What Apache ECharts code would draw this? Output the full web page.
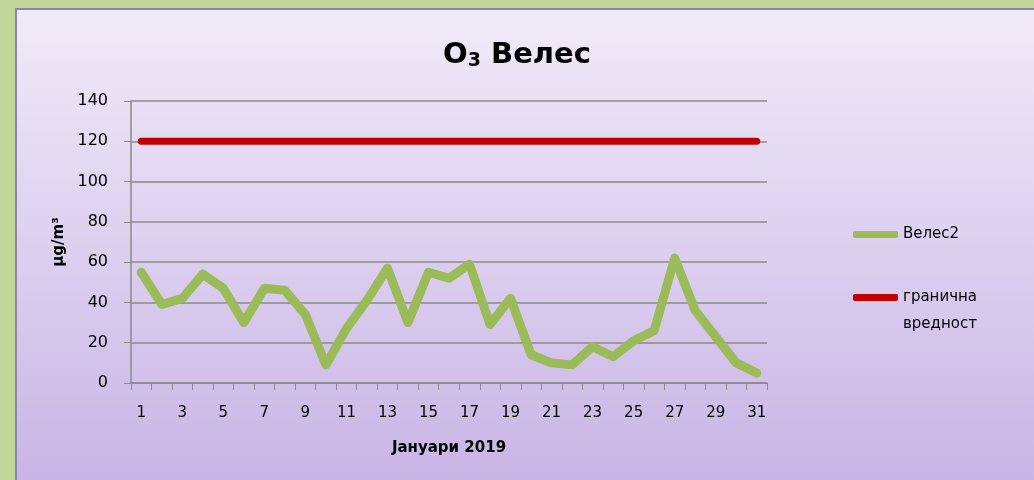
<!DOCTYPE html>
<html>
<head>
<meta charset="utf-8">
<script src="https://cdn.jsdelivr.net/npm/echarts@6/dist/echarts.min.js"></script>
<style>
  html, body { margin: 0; padding: 0; }
  #chart { width: 1034px; height: 480px; }
</style>
</head>
<body>
<div id="chart"></div>
<script>
var days = ['1','2','3','4','5','6','7','8','9','10','11','12','13','14','15','16',
            '17','18','19','20','21','22','23','24','25','26','27','28','29','30','31'];
var veles2 = [55, 39, 42, 54, 47, 30, 47, 46, 34, 9, 27, 41, 57, 30, 55, 52,
              59, 29, 42, 14, 10, 9, 18, 13, 21, 26, 62, 36, 23, 10, 5];
var granicna = [120, 120, 120, 120, 120, 120, 120, 120, 120, 120, 120, 120, 120, 120, 120, 120,
                120, 120, 120, 120, 120, 120, 120, 120, 120, 120, 120, 120, 120, 120, 120];

var font = '"Comic Sans MS", "DejaVu Sans", sans-serif';
var myChart = echarts.init(document.getElementById('chart'));

var option = {
    animation: false,
    graphic: [
        {
            type: 'rect', silent: true, z: -10,
            shape: {x: 0, y: 0, width: 1034, height: 480},
            style: {fill: '#c3d69b'}
        },
        {
            type: 'rect', silent: true, z: -9,
            shape: {x: 16, y: 9, width: 1030, height: 480},
            style: {
                stroke: '#8f82b0', lineWidth: 2,
                fill: {
                    type: 'linear', x: 0, y: 0, x2: 0, y2: 1,
                    colorStops: [
                        {offset: 0, color: '#f0ebf8'},
                        {offset: 1, color: '#c8b4e5'}
                    ]
                }
            }
        }
    ],
    title: {
        text: 'O{sub|3} Велес',
        left: 'center',
        top: 34,
        textStyle: {
            fontFamily: font,
            fontSize: 29,
            fontWeight: 'bold',
            color: '#000',
            rich: {
                sub: {fontFamily: font, fontSize: 19, fontWeight: 'bold', color: '#000', padding: [13, 0, 0, 0]}
            }
        }
    },
    legend: {
        orient: 'vertical',
        left: 853,
        top: 221,
        padding: 0,
        itemGap: 9,
        itemWidth: 45,
        itemHeight: 7,
        icon: 'roundRect',
        textStyle: {fontFamily: font, fontSize: 15, color: '#000', lineHeight: 27},
        formatter: function (name) {
            // push the first line of a two-line name level with the icon
            return name.indexOf('\n') >= 0 ? ' \n' + name : name;
        },
        data: ['Велес2', 'гранична\nвредност']
    },
    grid: {
        left: 131,
        top: 101,
        right: 267,
        bottom: 97
    },
    xAxis: {
        type: 'category',
        data: days,
        boundaryGap: true,
        name: 'Јануари 2019',
        nameLocation: 'middle',
        nameGap: 58,
        nameTextStyle: {fontFamily: font, fontSize: 15, fontWeight: 'bold', color: '#000'},
        axisLine: {lineStyle: {color: '#8a8a8a', width: 1.5}},
        axisTick: {show: true, length: 7, interval: 0, lineStyle: {color: '#8a8a8a'}},
        axisLabel: {interval: 1, margin: 23, fontFamily: font, fontSize: 15, color: '#000'}
    },
    yAxis: {
        type: 'value',
        min: 0,
        max: 140,
        interval: 20,
        name: 'μg/m³',
        nameLocation: 'middle',
        nameGap: 64,
        nameTextStyle: {fontFamily: font, fontSize: 15, fontWeight: 'bold', color: '#000'},
        axisLine: {show: true, lineStyle: {color: '#8a8a8a', width: 1.5}},
        axisTick: {show: true, length: 7, lineStyle: {color: '#8a8a8a'}},
        axisLabel: {margin: 23, fontFamily: font, fontSize: 16, color: '#000'},
        splitLine: {lineStyle: {color: '#8a8a8a', width: 1.5}}
    },
    series: [
        {
            name: 'Велес2',
            type: 'line',
            data: veles2,
            symbol: 'none',
            color: '#9bbb59',
            lineStyle: {width: 9, color: '#9bbb59', cap: 'round', join: 'round'}
        },
        {
            name: 'гранична\nвредност',
            type: 'line',
            data: granicna,
            symbol: 'none',
            color: '#c00000',
            lineStyle: {width: 7, color: '#c00000', cap: 'round', join: 'round'}
        }
    ]
};

myChart.setOption(option);
</script>
</body>
</html>
